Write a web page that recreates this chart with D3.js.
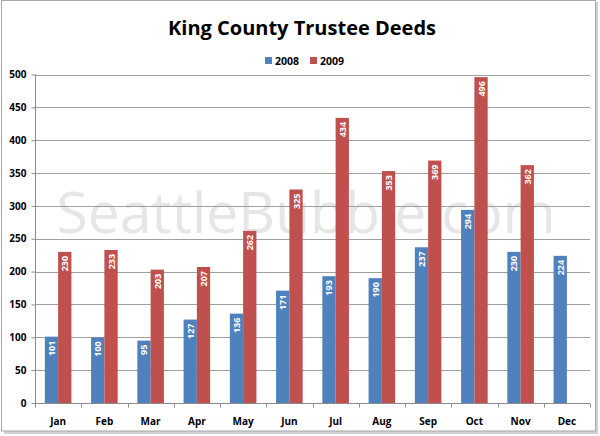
<!DOCTYPE html>
<html><head><meta charset="utf-8">
<script src="https://cdn.jsdelivr.net/npm/d3@7"></script>
<style>html,body{margin:0;padding:0;background:#fff;}svg{display:block;}</style>
</head><body>
<script>
const months = ["Jan","Feb","Mar","Apr","May","Jun","Jul","Aug","Sep","Oct","Nov","Dec"];
const series = ["2008","2009"];
const values2008 = [101,100,95,127,136,171,193,190,237,294,230,224];
const values2009 = [230,233,203,207,262,325,434,353,369,496,362,null];
const yTicks = [0,50,100,150,200,250,300,350,400,450,500];
const colors = {"2008":"#4f81bd","2009":"#c0504d"};
const title = "King County Trustee Deeds";
const watermark = "SeattleBubble.com";

const W = 600, H = 436;
const svg = d3.select("body").append("svg").attr("width", W).attr("height", H);
const font = "'Open Sans', 'Liberation Sans', sans-serif";

// frame with shadow
svg.append("rect").attr("x",4).attr("y",2).attr("width",594).attr("height",432).attr("fill","#d0d0d0");
svg.append("rect").attr("x",1.5).attr("y",0.5).attr("width",594).attr("height",430.5)
  .attr("fill","#fff").attr("stroke","#a8a8a8").attr("stroke-width",1);

const x0 = d3.scaleBand().domain(months).range([35,590]).paddingInner(0).paddingOuter(0);
const x1 = d3.scaleBand().domain(series).range([0,x0.bandwidth()]).paddingInner(0).paddingOuter(0.74);
const y = d3.scaleLinear().domain([0,500]).range([403,74.5]);

// watermark
svg.append("text").attr("x",306).attr("y",233)
  .attr("text-anchor","middle").attr("font-family",font).attr("font-size",57)
  .attr("fill","#e6e6e6").text(watermark);

// gridlines
svg.append("g").selectAll("line").data(yTicks.filter(d=>d>0)).join("line")
  .attr("x1",35).attr("x2",590).attr("y1",d=>Math.round(y(d))+0.5).attr("y2",d=>Math.round(y(d))+0.5)
  .attr("stroke","#a0a0a0").attr("stroke-width",1);

// y axis
const yAxis = d3.axisLeft(y).tickValues(yTicks).tickSize(4).tickPadding(5);
const gy = svg.append("g").attr("transform","translate(35.5,0)").call(yAxis);
gy.selectAll("path,line").attr("stroke","#8c8c8c");
gy.select(".domain").attr("d","M0,"+y(500)+"V"+(y(0)+0.5));
gy.selectAll("text").attr("font-family",font).attr("font-weight","bold").attr("font-size",10).attr("fill","#000");

// bars
const data = months.map((m,i)=>({m, vals:[{s:"2008",v:values2008[i]},{s:"2009",v:values2009[i]}]}));
const groups = svg.append("g").selectAll("g").data(data).join("g")
  .attr("transform",d=>`translate(${x0(d.m)},0)`);
const bars = groups.selectAll("g").data(d=>d.vals.filter(e=>e.v!=null)).join("g");
bars.append("rect").attr("x",d=>x1(d.s)).attr("width",x1.bandwidth())
  .attr("y",d=>y(d.v)).attr("height",d=>y(0)-y(d.v)).attr("fill",d=>colors[d.s]);
bars.append("text")
  .attr("transform",d=>`translate(${x1(d.s)+x1.bandwidth()/2+3.5},${y(d.v)+4}) rotate(-90)`)
  .attr("text-anchor","end").attr("font-family",font).attr("font-weight","bold").attr("font-size",9)
  .attr("fill","#fff").text(d=>d.v);

// x axis
const xAxisG = svg.append("g").attr("transform",`translate(0,${y(0)+0.5})`);
xAxisG.append("line").attr("x1",35).attr("x2",590).attr("stroke","#8c8c8c");
xAxisG.selectAll("line.t").data(d3.range(months.length+1)).join("line").attr("class","t")
  .attr("x1",i=>Math.round(35+x0.step()*i)+0.5).attr("x2",i=>Math.round(35+x0.step()*i)+0.5)
  .attr("y1",0).attr("y2",4).attr("stroke","#8c8c8c");
xAxisG.selectAll("text").data(months).join("text")
  .attr("x",d=>x0(d)+x0.bandwidth()/2).attr("y",21).attr("text-anchor","middle")
  .attr("font-family",font).attr("font-weight","bold").attr("font-size",10).attr("fill","#000").text(d=>d);

// title
svg.append("text").attr("x",302).attr("y",35).attr("text-anchor","middle")
  .attr("font-family",font).attr("font-weight","bold").attr("font-size",20).attr("fill","#000").text(title);

// legend
const leg = svg.append("g");
const legX = [265,310];
series.forEach((s,i)=>{
  leg.append("rect").attr("x",legX[i]).attr("y",57).attr("width",7).attr("height",7).attr("fill",colors[s]);
  leg.append("text").attr("x",legX[i]+10).attr("y",65).attr("font-family",font).attr("font-weight","bold")
    .attr("font-size",10.5).attr("fill","#000").text(s);
});
</script>
</body></html>
